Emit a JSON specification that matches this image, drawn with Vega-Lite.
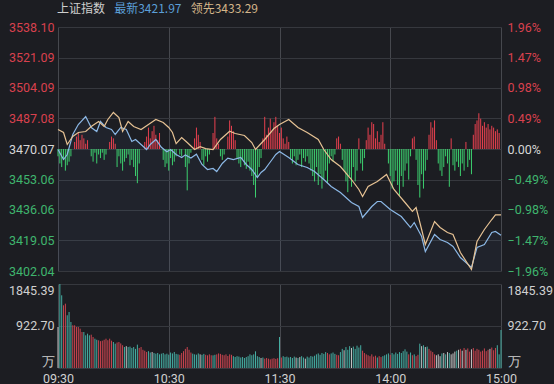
{
  "$schema": "https://vega.github.io/schema/vega-lite/v6.json",
  "background": "#1c1d22",
  "padding": {"left": 8, "right": 4, "top": 2, "bottom": 1},
  "spacing": 5,
  "config": {
    "view": {"stroke": null},
    "axis": {"labelFont": "Roboto", "labelFontSize": 12.5, "title": null, "domain": false, "ticks": false}
  },
  "resolve": {"scale": {"color": "independent"}},
  "datasets": {
    "head": [{"k": "上证指数"}, {"k": "最新3421.97"}, {"k": "领先3433.29"}],
    "line": [
      {"t":0,"p":3469.79,"s":"最新"},{"t":3,"p":3464.21,"s":"最新"},{"t":5,"p":3467.00,"s":"最新"},{"t":8,"p":3478.16,"s":"最新"},{"t":11,"p":3483.73,"s":"最新"},{"t":15,"p":3488.20,"s":"最新"},{"t":18,"p":3482.06,"s":"最新"},{"t":21,"p":3479.83,"s":"最新"},{"t":23,"p":3485.41,"s":"最新"},{"t":26,"p":3482.06,"s":"最新"},{"t":29,"p":3480.95,"s":"最新"},{"t":31,"p":3478.16,"s":"最新"},{"t":34,"p":3482.06,"s":"最新"},{"t":37,"p":3480.95,"s":"最新"},{"t":40,"p":3474.25,"s":"最新"},{"t":42,"p":3475.37,"s":"最新"},{"t":45,"p":3472.58,"s":"最新"},{"t":48,"p":3469.79,"s":"最新"},{"t":50,"p":3472.58,"s":"最新"},{"t":53,"p":3475.37,"s":"最新"},{"t":56,"p":3471.00,"s":"最新"},{"t":59,"p":3468.50,"s":"最新"},{"t":61,"p":3469.79,"s":"最新"},{"t":64,"p":3467.00,"s":"最新"},{"t":67,"p":3465.33,"s":"最新"},{"t":69,"p":3466.80,"s":"最新"},{"t":72,"p":3465.00,"s":"最新"},{"t":75,"p":3467.20,"s":"最新"},{"t":78,"p":3461.43,"s":"最新"},{"t":81,"p":3458.64,"s":"最新"},{"t":84,"p":3459.20,"s":"最新"},{"t":86,"p":3457.52,"s":"最新"},{"t":89,"p":3462.00,"s":"最新"},{"t":92,"p":3465.00,"s":"最新"},{"t":95,"p":3464.21,"s":"最新"},{"t":99,"p":3465.33,"s":"最新"},{"t":102,"p":3461.43,"s":"最新"},{"t":105,"p":3458.64,"s":"最新"},{"t":108,"p":3454.18,"s":"最新"},{"t":110,"p":3457.00,"s":"最新"},{"t":112,"p":3458.64,"s":"最新"},{"t":114,"p":3461.43,"s":"最新"},{"t":116,"p":3464.21,"s":"最新"},{"t":118,"p":3467.00,"s":"最新"},{"t":120,"p":3468.68,"s":"最新"},{"t":125,"p":3465.33,"s":"最新"},{"t":130,"p":3461.43,"s":"最新"},{"t":135,"p":3459.75,"s":"最新"},{"t":139,"p":3457.52,"s":"最新"},{"t":144,"p":3453.06,"s":"最新"},{"t":148,"p":3449.16,"s":"最新"},{"t":153,"p":3445.81,"s":"最新"},{"t":159,"p":3440.23,"s":"最新"},{"t":163,"p":3438.00,"s":"最新"},{"t":165,"p":3431.87,"s":"最新"},{"t":170,"p":3438.00,"s":"最新"},{"t":173,"p":3440.79,"s":"最新"},{"t":175,"p":3440.79,"s":"最新"},{"t":180,"p":3436.33,"s":"最新"},{"t":186,"p":3432.43,"s":"最新"},{"t":191,"p":3426.29,"s":"最新"},{"t":193,"p":3429.08,"s":"最新"},{"t":197,"p":3421.27,"s":"最新"},{"t":199,"p":3412.91,"s":"最新"},{"t":204,"p":3422.39,"s":"最新"},{"t":207,"p":3419.60,"s":"最新"},{"t":211,"p":3417.93,"s":"最新"},{"t":214,"p":3415.70,"s":"最新"},{"t":218,"p":3409.56,"s":"最新"},{"t":224,"p":3403.99,"s":"最新"},{"t":227,"p":3415.14,"s":"最新"},{"t":231,"p":3416.81,"s":"最新"},{"t":235,"p":3423.50,"s":"最新"},{"t":237,"p":3424.06,"s":"最新"},{"t":240,"p":3421.97,"s":"最新"},
      {"t":0,"p":3480.95,"s":"领先"},{"t":3,"p":3479.27,"s":"领先"},{"t":5,"p":3472.58,"s":"领先"},{"t":8,"p":3477.04,"s":"领先"},{"t":11,"p":3479.27,"s":"领先"},{"t":15,"p":3479.83,"s":"领先"},{"t":18,"p":3482.62,"s":"领先"},{"t":22,"p":3485.41,"s":"领先"},{"t":25,"p":3482.62,"s":"领先"},{"t":27,"p":3486.52,"s":"领先"},{"t":30,"p":3490.43,"s":"领先"},{"t":33,"p":3487.64,"s":"领先"},{"t":35,"p":3479.83,"s":"领先"},{"t":38,"p":3485.41,"s":"领先"},{"t":41,"p":3482.62,"s":"领先"},{"t":45,"p":3480.95,"s":"领先"},{"t":49,"p":3483.73,"s":"领先"},{"t":53,"p":3486.52,"s":"领先"},{"t":57,"p":3484.85,"s":"领先"},{"t":60,"p":3482.06,"s":"领先"},{"t":62,"p":3479.27,"s":"领先"},{"t":64,"p":3473.10,"s":"领先"},{"t":67,"p":3476.48,"s":"领先"},{"t":70,"p":3473.69,"s":"领先"},{"t":74,"p":3469.79,"s":"领先"},{"t":77,"p":3471.40,"s":"领先"},{"t":80,"p":3470.30,"s":"领先"},{"t":84,"p":3469.79,"s":"领先"},{"t":88,"p":3475.37,"s":"领先"},{"t":93,"p":3480.00,"s":"领先"},{"t":96,"p":3478.70,"s":"领先"},{"t":101,"p":3477.60,"s":"领先"},{"t":105,"p":3473.69,"s":"领先"},{"t":107,"p":3469.79,"s":"领先"},{"t":112,"p":3475.37,"s":"领先"},{"t":117,"p":3481.50,"s":"领先"},{"t":120,"p":3483.73,"s":"领先"},{"t":125,"p":3486.52,"s":"领先"},{"t":130,"p":3482.06,"s":"领先"},{"t":135,"p":3479.27,"s":"领先"},{"t":141,"p":3475.37,"s":"领先"},{"t":144,"p":3469.79,"s":"领先"},{"t":148,"p":3464.21,"s":"领先"},{"t":153,"p":3460.31,"s":"领先"},{"t":159,"p":3453.06,"s":"领先"},{"t":163,"p":3447.48,"s":"领先"},{"t":165,"p":3443.58,"s":"领先"},{"t":168,"p":3449.16,"s":"领先"},{"t":173,"p":3451.94,"s":"领先"},{"t":178,"p":3455.85,"s":"领先"},{"t":182,"p":3447.48,"s":"领先"},{"t":188,"p":3440.23,"s":"领先"},{"t":192,"p":3435.25,"s":"领先"},{"t":194,"p":3437.45,"s":"领先"},{"t":197,"p":3425.18,"s":"领先"},{"t":199,"p":3416.81,"s":"领先"},{"t":204,"p":3429.64,"s":"领先"},{"t":207,"p":3426.29,"s":"领先"},{"t":211,"p":3423.50,"s":"领先"},{"t":214,"p":3422.39,"s":"领先"},{"t":218,"p":3412.35,"s":"领先"},{"t":224,"p":3402.87,"s":"领先"},{"t":227,"p":3418.48,"s":"领先"},{"t":231,"p":3425.18,"s":"领先"},{"t":235,"p":3430.75,"s":"领先"},{"t":237,"p":3433.29,"s":"领先"},{"t":240,"p":3433.29,"s":"领先"}
    ],
    "ind": [
      {"t":0,"b":3466},{"t":1,"b":3462},{"t":2,"b":3460},{"t":3,"b":3464},{"t":4,"b":3458},{"t":5,"b":3461},{"t":6,"b":3463},{"t":7,"b":3466},
      {"t":9,"b":3474},{"t":10,"b":3477},{"t":11,"b":3479},{"t":12,"b":3475},{"t":13,"b":3478},{"t":14,"b":3476},{"t":15,"b":3473},{"t":16,"b":3475},
      {"t":18,"b":3466},{"t":19,"b":3463},{"t":20,"b":3468},{"t":21,"b":3462},{"t":22,"b":3467},{"t":23,"b":3465},{"t":24,"b":3468},{"t":25,"b":3464},{"t":26,"b":3467},
      {"t":28,"b":3474},{"t":29,"b":3477},{"t":30,"b":3476},{"t":31,"b":3473},
      {"t":32,"b":3460},{"t":33,"b":3466},{"t":34,"b":3462},{"t":35,"b":3458},{"t":36,"b":3463},{"t":37,"b":3465},{"t":38,"b":3467},{"t":39,"b":3461},{"t":40,"b":3464},{"t":41,"b":3460},{"t":42,"b":3455},{"t":43,"b":3451},{"t":44,"b":3462},
      {"t":47,"b":3474},{"t":48,"b":3477},{"t":49,"b":3482},{"t":50,"b":3476},{"t":51,"b":3480},{"t":52,"b":3483},{"t":53,"b":3478},{"t":54,"b":3475},{"t":55,"b":3479},
      {"t":57,"b":3464},{"t":58,"b":3460},{"t":59,"b":3462},{"t":60,"b":3458},{"t":61,"b":3465},{"t":62,"b":3461},{"t":63,"b":3463},{"t":64,"b":3466},{"t":66,"b":3467},{"t":67,"b":3466},
      {"t":69,"b":3460},{"t":70,"b":3447},{"t":71,"b":3462},{"t":72,"b":3468},
      {"t":74,"b":3476},{"t":75,"b":3482},{"t":76,"b":3478},{"t":77,"b":3474},
      {"t":78,"b":3464},{"t":79,"b":3461},{"t":80,"b":3466},{"t":81,"b":3463},{"t":82,"b":3467},
      {"t":84,"b":3479},{"t":85,"b":3488},{"t":86,"b":3476},{"t":87,"b":3473},
      {"t":88,"b":3466},{"t":89,"b":3464},{"t":90,"b":3467},
      {"t":92,"b":3477},{"t":93,"b":3486},{"t":94,"b":3483},{"t":95,"b":3480},{"t":96,"b":3475},
      {"t":97,"b":3465},{"t":98,"b":3462},{"t":99,"b":3460},{"t":100,"b":3464},{"t":101,"b":3461},{"t":102,"b":3459},{"t":103,"b":3463},{"t":104,"b":3458},{"t":105,"b":3455},{"t":106,"b":3450},{"t":107,"b":3443},{"t":108,"b":3454},{"t":109,"b":3460},{"t":110,"b":3465},
      {"t":111,"b":3476},{"t":112,"b":3488},{"t":113,"b":3478},{"t":114,"b":3482},{"t":115,"b":3487},{"t":116,"b":3480},{"t":117,"b":3485},{"t":118,"b":3488},{"t":119,"b":3483},{"t":120,"b":3479},
      {"t":121,"b":3482},{"t":122,"b":3476},{"t":123,"b":3473},{"t":124,"b":3477},{"t":125,"b":3474},
      {"t":126,"b":3465},{"t":127,"b":3462},{"t":128,"b":3466},{"t":129,"b":3461},{"t":130,"b":3464},{"t":131,"b":3467},{"t":132,"b":3460},{"t":133,"b":3465},{"t":134,"b":3463},{"t":135,"b":3466},{"t":136,"b":3462},
      {"t":137,"b":3458},{"t":138,"b":3455},{"t":139,"b":3452},{"t":140,"b":3460},{"t":141,"b":3450},{"t":142,"b":3456},{"t":143,"b":3448},{"t":144,"b":3453},{"t":145,"b":3458},{"t":146,"b":3451},{"t":147,"b":3462},{"t":148,"b":3466},{"t":149,"b":3463},{"t":150,"b":3467},{"t":151,"b":3476},{"t":152,"b":3477},{"t":153,"b":3473},{"t":154,"b":3464},{"t":155,"b":3458},{"t":156,"b":3452},{"t":157,"b":3446},{"t":158,"b":3455},{"t":159,"b":3449},{"t":160,"b":3460},{"t":161,"b":3452},{"t":162,"b":3458},{"t":163,"b":3476},{"t":164,"b":3462},{"t":165,"b":3458},{"t":166,"b":3465},
      {"t":167,"b":3475},{"t":168,"b":3482},{"t":169,"b":3478},{"t":170,"b":3485},{"t":171,"b":3484},{"t":172,"b":3476},{"t":173,"b":3480},{"t":174,"b":3474},{"t":175,"b":3478},{"t":176,"b":3485},{"t":177,"b":3473},
      {"t":179,"b":3462},{"t":180,"b":3455},{"t":181,"b":3448},{"t":182,"b":3452},{"t":183,"b":3458},{"t":184,"b":3450},{"t":185,"b":3444},{"t":186,"b":3455},{"t":187,"b":3449},{"t":188,"b":3458},{"t":189,"b":3462},{"t":190,"b":3453},{"t":191,"b":3466},{"t":192,"b":3476},{"t":193,"b":3477},{"t":194,"b":3464},{"t":195,"b":3450},{"t":196,"b":3443},{"t":197,"b":3456},{"t":198,"b":3448},{"t":199,"b":3458},{"t":200,"b":3464},
      {"t":201,"b":3478},{"t":202,"b":3485},{"t":203,"b":3482},{"t":204,"b":3486},{"t":205,"b":3475},
      {"t":206,"b":3462},{"t":207,"b":3458},{"t":208,"b":3455},{"t":209,"b":3460},{"t":210,"b":3466},{"t":211,"b":3462},{"t":212,"b":3449},{"t":213,"b":3476},{"t":214,"b":3461},{"t":215,"b":3458},{"t":216,"b":3463},{"t":217,"b":3460},{"t":218,"b":3455},{"t":219,"b":3462},{"t":220,"b":3458},{"t":221,"b":3474},{"t":222,"b":3460},{"t":223,"b":3464},{"t":224,"b":3456},
      {"t":225,"b":3478},{"t":226,"b":3484},{"t":227,"b":3486},{"t":228,"b":3490},{"t":229,"b":3487},{"t":230,"b":3483},{"t":231,"b":3485},{"t":232,"b":3482},{"t":233,"b":3484},{"t":234,"b":3481},{"t":235,"b":3483},{"t":236,"b":3482},{"t":237,"b":3480},{"t":238,"b":3481},{"t":239,"b":3479}
    ],
    "vol": [
      {"t":0,"v":901,"c":"f"},{"t":1,"v":1845,"c":"d"},{"t":2,"v":1597,"c":"d"},{"t":3,"v":1377,"c":"u"},{"t":4,"v":1413,"c":"u"},{"t":5,"v":1158,"c":"d"},{"t":6,"v":1230,"c":"d"},{"t":7,"v":1011,"c":"d"},{"t":8,"v":938,"c":"u"},{"t":9,"v":938,"c":"u"},
      {"t":10,"v":901,"c":"u"},{"t":11,"v":901,"c":"u"},{"t":12,"v":864,"c":"u"},{"t":13,"v":791,"c":"u"},{"t":14,"v":791,"c":"d"},{"t":15,"v":718,"c":"d"},{"t":16,"v":754,"c":"d"},{"t":17,"v":718,"c":"d"},{"t":18,"v":732,"c":"u"},{"t":19,"v":681,"c":"u"},
      {"t":20,"v":644,"c":"d"},{"t":21,"v":620,"c":"d"},{"t":22,"v":608,"c":"u"},{"t":23,"v":590,"c":"u"},{"t":24,"v":600,"c":"u"},{"t":25,"v":620,"c":"u"},{"t":26,"v":644,"c":"u"},{"t":27,"v":610,"c":"u"},{"t":28,"v":644,"c":"u"},{"t":29,"v":600,"c":"u"},
      {"t":30,"v":571,"c":"d"},{"t":31,"v":534,"c":"d"},{"t":32,"v":560,"c":"u"},{"t":33,"v":571,"c":"u"},{"t":34,"v":540,"c":"u"},{"t":35,"v":500,"c":"u"},{"t":36,"v":461,"c":"d"},{"t":37,"v":480,"c":"f"},{"t":38,"v":461,"c":"d"},{"t":39,"v":470,"c":"d"},
      {"t":40,"v":440,"c":"d"},{"t":41,"v":461,"c":"d"},{"t":42,"v":420,"c":"d"},{"t":43,"v":513,"c":"d"},{"t":44,"v":440,"c":"u"},{"t":45,"v":461,"c":"u"},{"t":46,"v":400,"c":"u"},{"t":47,"v":380,"c":"u"},{"t":48,"v":352,"c":"u"},{"t":49,"v":370,"c":"d"},
      {"t":50,"v":340,"c":"d"},{"t":51,"v":352,"c":"f"},{"t":52,"v":330,"c":"d"},{"t":53,"v":315,"c":"d"},{"t":54,"v":330,"c":"d"},{"t":55,"v":300,"c":"d"},{"t":56,"v":315,"c":"d"},{"t":57,"v":330,"c":"d"},{"t":58,"v":300,"c":"d"},{"t":59,"v":315,"c":"d"},
      {"t":60,"v":293,"c":"d"},{"t":61,"v":340,"c":"d"},{"t":62,"v":320,"c":"d"},{"t":63,"v":352,"c":"d"},{"t":64,"v":310,"c":"d"},{"t":65,"v":300,"c":"d"},{"t":66,"v":290,"c":"u"},{"t":67,"v":330,"c":"u"},{"t":68,"v":370,"c":"u"},{"t":69,"v":420,"c":"u"},
      {"t":70,"v":461,"c":"u"},{"t":71,"v":400,"c":"u"},{"t":72,"v":340,"c":"u"},{"t":73,"v":315,"c":"d"},{"t":74,"v":300,"c":"d"},{"t":75,"v":293,"c":"d"},{"t":76,"v":320,"c":"d"},{"t":77,"v":300,"c":"f"},{"t":78,"v":290,"c":"d"},{"t":79,"v":310,"c":"d"},
      {"t":80,"v":290,"c":"u"},{"t":81,"v":278,"c":"u"},{"t":82,"v":300,"c":"u"},{"t":83,"v":280,"c":"u"},{"t":84,"v":278,"c":"d"},{"t":85,"v":290,"c":"d"},{"t":86,"v":300,"c":"u"},{"t":87,"v":320,"c":"u"},{"t":88,"v":310,"c":"u"},{"t":89,"v":290,"c":"u"},
      {"t":90,"v":280,"c":"u"},{"t":91,"v":300,"c":"u"},{"t":92,"v":264,"c":"u"},{"t":93,"v":300,"c":"u"},{"t":94,"v":290,"c":"u"},{"t":95,"v":260,"c":"d"},{"t":96,"v":242,"c":"d"},{"t":97,"v":260,"c":"d"},{"t":98,"v":250,"c":"d"},{"t":99,"v":230,"c":"d"},
      {"t":100,"v":242,"c":"d"},{"t":101,"v":220,"c":"d"},{"t":102,"v":240,"c":"d"},{"t":103,"v":260,"c":"d"},{"t":104,"v":300,"c":"d"},{"t":105,"v":280,"c":"d"},{"t":106,"v":300,"c":"d"},{"t":107,"v":366,"c":"d"},{"t":108,"v":260,"c":"d"},{"t":109,"v":240,"c":"d"},
      {"t":110,"v":220,"c":"f"},{"t":111,"v":230,"c":"d"},{"t":112,"v":205,"c":"u"},{"t":113,"v":220,"c":"u"},{"t":114,"v":205,"c":"u"},{"t":115,"v":190,"c":"u"},{"t":116,"v":205,"c":"u"},{"t":117,"v":215,"c":"u"},{"t":118,"v":200,"c":"u"},{"t":119,"v":215,"c":"u"},
      {"t":120,"v":681,"c":"d"},{"t":121,"v":230,"c":"u"},{"t":122,"v":260,"c":"d"},{"t":123,"v":240,"c":"d"},{"t":124,"v":250,"c":"d"},{"t":125,"v":230,"c":"d"},{"t":126,"v":242,"c":"d"},{"t":127,"v":220,"c":"d"},{"t":128,"v":250,"c":"d"},{"t":129,"v":230,"c":"f"},
      {"t":130,"v":220,"c":"d"},{"t":131,"v":240,"c":"f"},{"t":132,"v":260,"c":"d"},{"t":133,"v":230,"c":"d"},{"t":134,"v":205,"c":"f"},{"t":135,"v":250,"c":"d"},{"t":136,"v":230,"c":"d"},{"t":137,"v":264,"c":"d"},{"t":138,"v":250,"c":"d"},{"t":139,"v":270,"c":"d"},
      {"t":140,"v":300,"c":"d"},{"t":141,"v":320,"c":"d"},{"t":142,"v":290,"c":"d"},{"t":143,"v":330,"c":"d"},{"t":144,"v":310,"c":"d"},{"t":145,"v":350,"c":"d"},{"t":146,"v":330,"c":"u"},{"t":147,"v":300,"c":"u"},{"t":148,"v":320,"c":"d"},{"t":149,"v":340,"c":"d"},
      {"t":150,"v":310,"c":"d"},{"t":151,"v":290,"c":"u"},{"t":152,"v":280,"c":"u"},{"t":153,"v":350,"c":"d"},{"t":154,"v":420,"c":"d"},{"t":155,"v":390,"c":"f"},{"t":156,"v":460,"c":"d"},{"t":157,"v":400,"c":"d"},{"t":158,"v":480,"c":"d"},{"t":159,"v":440,"c":"f"},
      {"t":160,"v":470,"c":"d"},{"t":161,"v":420,"c":"d"},{"t":162,"v":490,"c":"d"},{"t":163,"v":450,"c":"d"},{"t":164,"v":500,"c":"d"},{"t":165,"v":380,"c":"u"},{"t":166,"v":330,"c":"u"},{"t":167,"v":300,"c":"u"},{"t":168,"v":280,"c":"u"},{"t":169,"v":260,"c":"u"},
      {"t":170,"v":300,"c":"u"},{"t":171,"v":250,"c":"u"},{"t":172,"v":270,"c":"u"},{"t":173,"v":230,"c":"d"},{"t":174,"v":260,"c":"u"},{"t":175,"v":240,"c":"u"},{"t":176,"v":260,"c":"d"},{"t":177,"v":280,"c":"d"},{"t":178,"v":300,"c":"d"},{"t":179,"v":320,"c":"d"},
      {"t":180,"v":290,"c":"u"},{"t":181,"v":330,"c":"d"},{"t":182,"v":300,"c":"d"},{"t":183,"v":340,"c":"d"},{"t":184,"v":310,"c":"d"},{"t":185,"v":350,"c":"d"},{"t":186,"v":330,"c":"d"},{"t":187,"v":370,"c":"d"},{"t":188,"v":410,"c":"d"},{"t":189,"v":360,"c":"d"},
      {"t":190,"v":300,"c":"u"},{"t":191,"v":340,"c":"d"},{"t":192,"v":280,"c":"u"},{"t":193,"v":300,"c":"d"},{"t":194,"v":260,"c":"u"},{"t":195,"v":290,"c":"u"},{"t":196,"v":535,"c":"d"},{"t":197,"v":480,"c":"f"},{"t":198,"v":500,"c":"d"},{"t":199,"v":460,"c":"f"},
      {"t":200,"v":470,"c":"d"},{"t":201,"v":420,"c":"u"},{"t":202,"v":380,"c":"u"},{"t":203,"v":350,"c":"u"},{"t":204,"v":300,"c":"u"},{"t":205,"v":280,"c":"f"},{"t":206,"v":300,"c":"f"},{"t":207,"v":260,"c":"f"},{"t":208,"v":320,"c":"d"},{"t":209,"v":330,"c":"f"},
      {"t":210,"v":300,"c":"d"},{"t":211,"v":350,"c":"f"},{"t":212,"v":330,"c":"d"},{"t":213,"v":300,"c":"f"},{"t":214,"v":320,"c":"f"},{"t":215,"v":360,"c":"f"},{"t":216,"v":380,"c":"d"},{"t":217,"v":400,"c":"f"},{"t":218,"v":420,"c":"u"},{"t":219,"v":380,"c":"f"},
      {"t":220,"v":440,"c":"u"},{"t":221,"v":400,"c":"f"},{"t":222,"v":430,"c":"u"},{"t":223,"v":360,"c":"u"},{"t":224,"v":410,"c":"f"},{"t":225,"v":440,"c":"u"},{"t":226,"v":380,"c":"u"},{"t":227,"v":420,"c":"u"},{"t":228,"v":400,"c":"u"},{"t":229,"v":360,"c":"u"},
      {"t":230,"v":380,"c":"u"},{"t":231,"v":430,"c":"u"},{"t":232,"v":370,"c":"u"},{"t":233,"v":400,"c":"u"},{"t":234,"v":420,"c":"f"},{"t":235,"v":450,"c":"u"},{"t":236,"v":390,"c":"u"},{"t":237,"v":440,"c":"u"},{"t":238,"v":500,"c":"d"},{"t":239,"v":300,"c":"d"},
      {"t":240,"v":835,"c":"d"}
    ]
  },
  "vconcat": [
    {
      "width": 443,
      "height": 14,
      "data": {"name": "head"},
      "mark": {"type": "text", "align": "right", "baseline": "middle", "fontSize": 12, "font": "Noto Sans CJK SC"},
      "encoding": {
        "x": {"field": "k", "type": "nominal", "sort": null, "axis": null, "scale": {"type": "point", "range": [47, 200], "padding": 0}},
        "text": {"field": "k"},
        "color": {"field": "k", "type": "nominal", "legend": null, "scale": {"domain": ["上证指数", "最新3421.97", "领先3433.29"], "range": ["#cfcfcf", "#5b9fd8", "#d4b58a"]}}
      }
    },
    {
      "width": 443,
      "height": 244,
      "resolve": {"axis": {"y": "independent"}},
      "layer": [
        {
          "data": {"name": "line"},
          "transform": [{"filter": "datum.s == '最新'"}],
          "mark": {"type": "area", "color": "#4f7fb8", "opacity": 0.07},
          "encoding": {
            "x": {"field": "t", "type": "quantitative", "scale": {"domain": [0, 240], "nice": false},
              "axis": {"values": [0, 60, 120, 180, 240], "labels": false, "grid": true, "gridColor": "#46484e"}},
            "y": {"field": "p", "type": "quantitative", "scale": {"domain": [3402.04, 3538.1], "nice": false, "zero": false},
              "axis": {"orient": "left", "values": [3402.04, 3419.05, 3436.06, 3453.06, 3470.07, 3487.08, 3504.09, 3521.09, 3538.1], "format": ".2f", "grid": true, "gridColor": "#36383e", "labelPadding": 4, "minExtent": 49,
                "labelColor": {"expr": "datum.value > 3471 ? '#d8414e' : (datum.value < 3469 ? '#3fb56e' : '#d6d6d6')"}}},
            "y2": {"datum": 3402.04}
          }
        },
        {
          "data": {"name": "ind"},
          "mark": {"type": "rule", "strokeWidth": 1},
          "encoding": {
            "x": {"field": "t", "type": "quantitative", "scale": {"domain": [0, 240], "nice": false}},
            "y": {"field": "b", "type": "quantitative", "scale": {"domain": [3402.04, 3538.1], "nice": false, "zero": false}, "axis": null},
            "y2": {"datum": 3470.07},
            "color": {"condition": {"test": "datum.b > 3470.07", "value": "#e8404f"}, "value": "#3ccf6e"}
          }
        },
        {
          "data": {"name": "line"},
          "mark": {"type": "line", "strokeWidth": 1.2},
          "encoding": {
            "x": {"field": "t", "type": "quantitative", "scale": {"domain": [0, 240], "nice": false}},
            "y": {"field": "p", "type": "quantitative", "scale": {"domain": [3402.04, 3538.1], "nice": false, "zero": false},
              "axis": {"orient": "right", "values": [3402.04, 3419.05, 3436.06, 3453.06, 3470.07, 3487.08, 3504.09, 3521.09, 3538.1], "grid": false, "labelPadding": 6,
                "labelExpr": "datum.value == 3470.07 ? '0.00%' : format((datum.value - 3470.07) / 3470.07 * 100, '.2f') + '%'",
                "labelColor": {"expr": "datum.value > 3471 ? '#d8414e' : (datum.value < 3469 ? '#3fb56e' : '#d6d6d6')"}}},
            "color": {"field": "s", "type": "nominal", "legend": null, "scale": {"domain": ["最新", "领先"], "range": ["#8cb8e6", "#e6c294"]}}
          }
        }
      ]
    },
    {
      "width": 443,
      "height": 84,
      "data": {"name": "vol"},
      "resolve": {"axis": {"y": "independent"}},
      "layer": [
        {
          "mark": {"type": "rule", "strokeWidth": 1},
          "encoding": {
            "x": {"field": "t", "type": "quantitative", "scale": {"domain": [0, 240], "nice": false},
              "axis": {"values": [0, 60, 120, 180, 240], "grid": true, "gridColor": "#46484e", "labelFlush": false, "labelPadding": 4, "labelColor": "#d0d0d0",
                "labelExpr": "datum.value == 0 ? '09:30' : datum.value == 60 ? '10:30' : datum.value == 120 ? '11:30' : datum.value == 180 ? '14:00' : '15:00'"}},
            "y": {"field": "v", "type": "quantitative", "scale": {"domain": [0, 1845.39], "nice": false},
              "axis": {"orient": "left", "values": [0, 922.7, 1845.39], "grid": true, "gridColor": "#36383e", "labelFlush": true, "labelPadding": 4, "minExtent": 49, "labelColor": "#d0d0d0",
                "labelExpr": "datum.value == 0 ? '万' : format(datum.value, '.2f')"}},
            "y2": {"datum": 0},
            "color": {"field": "c", "type": "nominal", "legend": null, "scale": {"domain": ["u", "d", "f"], "range": ["#c9444f", "#45ada2", "#c4c4c4"]}}
          }
        },
        {
          "mark": {"type": "rule", "opacity": 0},
          "encoding": {
            "x": {"field": "t", "type": "quantitative", "scale": {"domain": [0, 240], "nice": false}},
            "y": {"field": "v", "type": "quantitative", "scale": {"domain": [0, 1845.39], "nice": false},
              "axis": {"orient": "right", "values": [0, 922.7, 1845.39], "grid": false, "labelFlush": true, "labelPadding": 6, "labelColor": "#d0d0d0",
                "labelExpr": "datum.value == 0 ? '万' : format(datum.value, '.2f')"}}
          }
        }
      ]
    }
  ]
}
